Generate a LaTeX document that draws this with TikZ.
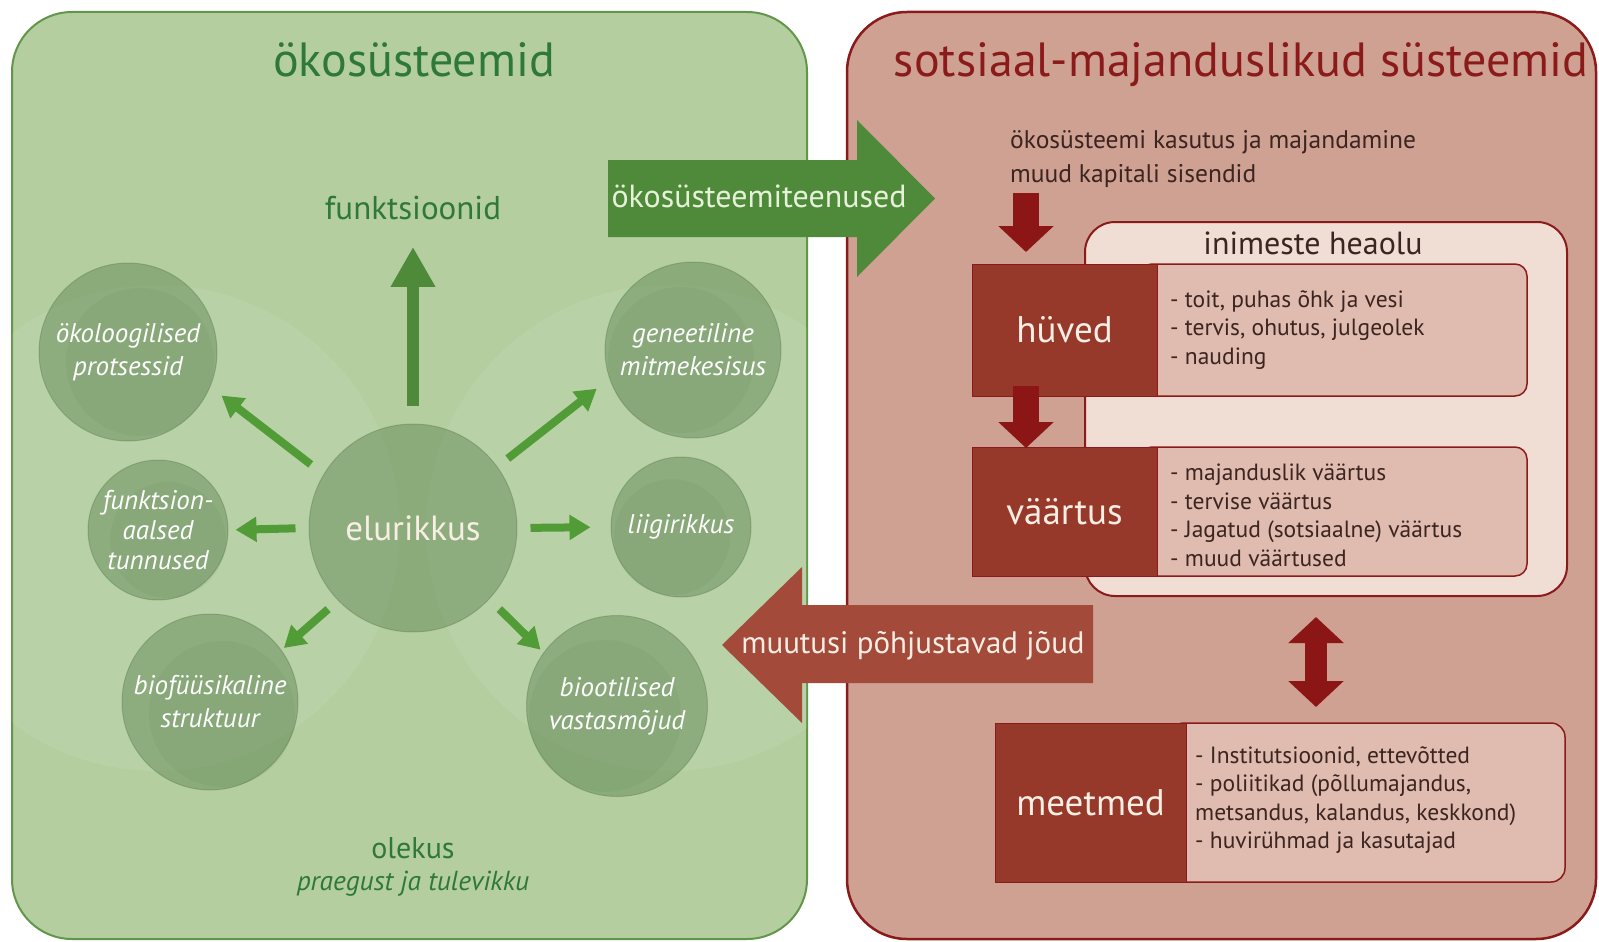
\documentclass[tikz,border=0pt]{standalone}
\usepackage{fontspec}
\setmainfont{PT Sans}
\usetikzlibrary{arrows.meta}
\definecolor{gpanel}{RGB}{180,206,160}
\definecolor{gborder}{RGB}{98,150,74}
\definecolor{gtitle}{RGB}{46,120,56}
\definecolor{gbig}{RGB}{78,138,58}
\definecolor{gsmall}{RGB}{82,156,56}
\definecolor{gcirc}{RGB}{90,130,80}
\definecolor{gcircd}{RGB}{70,105,62}
\definecolor{rpanel}{RGB}{207,161,146}
\definecolor{rborder}{RGB}{139,26,26}
\definecolor{rtitle}{RGB}{139,26,26}
\definecolor{rdark}{RGB}{150,56,42}
\definecolor{rtextbox}{RGB}{223,188,175}
\definecolor{rlight}{RGB}{240,221,211}
\definecolor{rarrow}{RGB}{140,22,22}
\definecolor{rbig}{RGB}{164,74,58}
\definecolor{txtdark}{RGB}{60,36,32}
\definecolor{lighttxt}{RGB}{248,238,228}
\definecolor{glighttxt}{RGB}{230,242,216}
\begin{document}
\begin{tikzpicture}[x=1pt,y=-1pt,
  circ/.style={circle,inner sep=0pt,fill=gcirc,fill opacity=0.45,draw=gcircd,draw opacity=0.3,line width=1pt,text opacity=1,text=white,align=center,font=\fontsize{27}{33}\selectfont\itshape},
  garr/.style={draw=gsmall,line width=8pt,-{Triangle[width=24pt,length=21pt]}},
  rarr/.style={draw=rarrow,line width=26pt,-{Triangle[width=54pt,length=26pt]}},
  darkbox/.style={fill=rdark,draw=rborder,line width=1pt,inner sep=0pt,text=lighttxt,font=\fontsize{37}{40}\selectfont},
  textbox/.style={fill=rtextbox,draw=rborder,line width=1.5pt,rounded corners=12pt},
  listtxt/.style={anchor=west,align=left,text=txtdark,font=\fontsize{23.5}{28.5}\selectfont,inner sep=0pt},
]
\useasboundingbox (0,0) rectangle (1599,942);
\fill[white] (0,0) rectangle (1599,942);

% ---------------- green panel ----------------
\draw[gborder,line width=2pt,fill=gpanel,rounded corners=60pt] (12,12) rectangle (807,939);
\begin{scope}
  \clip[rounded corners=60pt] (12,12) rectangle (807,939);
  \fill[white,opacity=0.08] (157,528) circle[radius=243pt];
  \fill[white,opacity=0.08] (669,528) circle[radius=243pt];
\end{scope}

% ---------------- red panel ----------------
\draw[rborder,line width=2.5pt,fill=rpanel,rounded corners=60pt] (847,12) rectangle (1596,939);

% titles
\node[anchor=base,text=gtitle,font=\fontsize{48}{52}\selectfont] (t1) at (414,77) {ökosüsteemid};
\node[anchor=base,text=rtitle,font=\fontsize{48}{52}\selectfont] (t2) at (1241,77) {sotsiaal-majanduslikud süsteemid};

% ---------------- circles ----------------
\fill[gcirc,opacity=0.10] (140,362) circle[radius=74pt];
\fill[gcirc,opacity=0.10] (168,540) circle[radius=58pt];
\fill[gcirc,opacity=0.10] (222,714) circle[radius=73pt];
\fill[gcirc,opacity=0.10] (681,360) circle[radius=73pt];
\fill[gcirc,opacity=0.10] (672,537) circle[radius=58pt];
\fill[gcirc,opacity=0.10] (605,716) circle[radius=76pt];

\node[circ,minimum size=208pt,font=\fontsize{35}{38}\selectfont,text=lighttxt] (elu) at (413,528) {elurikkus};
\node[circ,minimum size=178pt] (okol) at (128,352) {ökoloogilised\\protsessid};
\node[circ,minimum size=140pt,font=\fontsize{27}{30}\selectfont\itshape] (fun) at (158,530) {funktsion-\\aalsed\\tunnused};
\node[circ,minimum size=176pt] (bio) at (210,702) {biofüüsikaline\\struktuur};
\node[circ,minimum size=176pt] (gen) at (693,350) {geneetiline\\mitmekesisus};
\node[circ,minimum size=140pt] (lii) at (681,527) {liigirikkus};
\node[circ,minimum size=181pt] (bvo) at (617,706) {biootilised\\vastasmõjud};

\node[anchor=base,text=gtitle,font=\fontsize{33}{36}\selectfont] (funk) at (413,219) {funktsioonid};
\draw[draw=gbig,line width=12pt,-{Triangle[width=42pt,length=40pt]},shorten <=18pt,shorten >=24pt] (elu.north) -- (funk.south);

\draw[garr,shorten <=16pt,shorten >=14pt] (elu.149) -- (okol.-23);
\draw[garr,shorten <=13pt,shorten >=7pt] (elu.180) -- (fun.0);
\draw[garr,shorten <=13pt,shorten >=3pt] (elu.224) -- (bio.36);
\draw[garr,shorten <=13pt,shorten >=16pt] (elu.36) -- (gen.199);
\draw[garr,shorten <=13pt,shorten >=20pt] (elu.0) -- (lii.180);
\draw[garr,shorten <=14pt,shorten >=4pt] (elu.-43) -- (bvo.144);

\node[text=gtitle,font=\fontsize{30}{34}\selectfont] (ol) at (413,848) {olekus};
\node[text=gtitle,font=\fontsize{27.5}{30}\selectfont\itshape] (pt) at (413,884) {praegust ja tulevikku};

% ---------------- big block arrows ----------------
\fill[gbig] (608,160) -- (857,160) -- (857,120) -- (935,198.5) -- (857,277) -- (857,237) -- (608,237) -- cycle;
\node[anchor=base,text=glighttxt,font=\fontsize{32}{36}\selectfont] (es) at (759,207) {ökosüsteemiteenused};

\fill[rbig] (1093,605) -- (802,605) -- (802,567) -- (722,645) -- (802,723) -- (802,683) -- (1093,683) -- cycle;
\node[anchor=base,text=lighttxt,font=\fontsize{31}{35}\selectfont] (mj) at (913,653) {muutusi põhjustavad jõud};

% ---------------- right panel content ----------------
\node[anchor=west,align=left,text=txtdark,font=\fontsize{25.5}{34}\selectfont,inner sep=0pt] (use) at (1010,159) {ökosüsteemi kasutus ja majandamine\\muud kapitali sisendid};

\draw[rborder,line width=2pt,fill=rlight,rounded corners=30pt] (1085,222) rectangle (1567,596);
\node[anchor=base,text=txtdark,font=\fontsize{32}{36}\selectfont] (hea) at (1313,254) {inimeste heaolu};

% hüved
\draw[textbox] (1140,264) rectangle (1527,396);
\node[darkbox,minimum width=185pt,minimum height=132pt] (hv) at (1064.5,330) {hüved};
\node[listtxt] (hvl) at (1170,330) {- toit, puhas õhk ja vesi\\- tervis, ohutus, julgeolek\\- nauding};

% väärtus
\draw[textbox] (1140,447) rectangle (1527,576);
\node[darkbox,minimum width=185pt,minimum height=129pt] (va) at (1064.5,511.5) {väärtus};
\node[listtxt] (val) at (1170,515.5) {- majanduslik väärtus\\- tervise väärtus\\- Jagatud (sotsiaalne) väärtus\\- muud väärtused};

% meetmed
\draw[textbox,rounded corners=14pt] (1170,723) rectangle (1565,882);
\node[darkbox,minimum width=191pt,minimum height=159pt] (me) at (1090.5,802.5) {meetmed};
\node[listtxt] (mel) at (1195,800) {- Institutsioonid, ettevõtted\\- poliitikad (põllumajandus,\\metsandus, kalandus, keskkond)\\- huvirühmad ja kasutajad};

% red arrows
\coordinate (a1s) at (1026,193);
\coordinate (a1e) at (1026,252);
\coordinate (a2s) at (1026,386);
\coordinate (a2e) at (1026,448);
\draw[rarr] (a1s) -- (a1e);
\draw[rarr] (a2s) -- (a2e);
\coordinate (d1) at (1316,617);
\coordinate (d2) at (1316,707);
\draw[draw=rarrow,line width=22pt,{Triangle[width=54pt,length=26pt]}-{Triangle[width=54pt,length=26pt]}] (d1) -- (d2);

\end{tikzpicture}
\end{document}
